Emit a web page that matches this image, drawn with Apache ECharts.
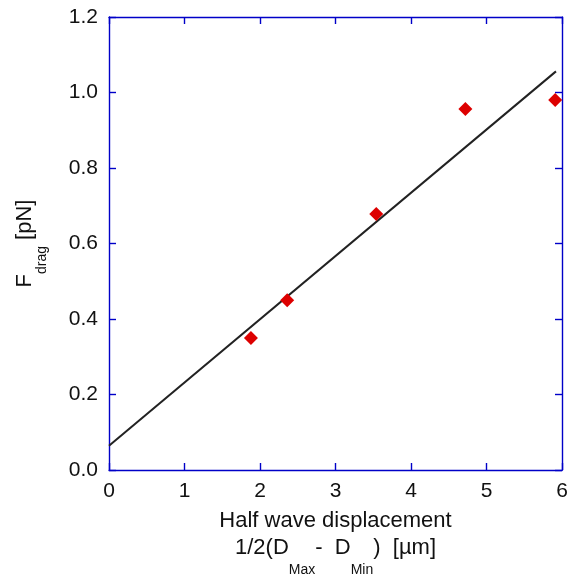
<!DOCTYPE html>
<html>
<head>
<meta charset="utf-8">
<script src="https://cdn.jsdelivr.net/npm/echarts@6/dist/echarts.min.js"></script>
<style>html,body{margin:0;padding:0;background:#fff}#c{width:568px;height:576px}</style>
</head>
<body>
<div id="c"></div>
<script>
const dispX = [1.88, 2.36, 3.54, 4.72, 5.91];
const fDrag = [0.35, 0.45, 0.678, 0.956, 0.98];
const fitX = [0, 5.92];
const fitY = [0.064, 1.056];
const xTicks = [0, 1, 2, 3, 4, 5, 6];
const yTicks = [0.0, 0.2, 0.4, 0.6, 0.8, 1.0, 1.2];

const axisBlue = '#0000c8';
const font = 'Liberation Sans, Arial, sans-serif';
const chart = echarts.init(document.getElementById('c'));
const baseAxis = {
  splitLine: {show: false},
  axisLine: {show: true, onZero: false, lineStyle: {color: axisBlue, width: 1.4}},
  axisTick: {show: true, inside: true, length: 7, lineStyle: {color: axisBlue, width: 1.4}}
};
chart.setOption({
  animation: false,
  grid: {left: 109, top: 17, right: 6, bottom: 106, containLabel: false, outerBoundsMode: 'none'},
  xAxis: [
    Object.assign({}, baseAxis, {
      type: 'value', min: xTicks[0], max: xTicks[xTicks.length-1], interval: 1,
      axisLabel: {color: '#111', fontSize: 21, fontFamily: font, margin: 11},
      name: '{a|Half wave displacement}\n{a|1/2(D}{s|Max}{a|-  D}{s|Min}{a|)  [µm]}',
      nameLocation: 'middle', nameGap: 40,
      nameTextStyle: {
        fontFamily: font, color: '#111',
        rich: {
          a: {fontSize: 22, fontFamily: font, color: '#111', lineHeight: 27, verticalAlign: 'top'},
          s: {fontSize: 14, fontFamily: font, color: '#111', lineHeight: 16, padding: [26, 0, 0, 0], verticalAlign: 'top'}
        }
      }
    }),
    Object.assign({}, baseAxis, {
      type: 'value', position: 'top', min: 0, max: 6, interval: 1,
      axisLabel: {show: false}
    })
  ],
  yAxis: [
    Object.assign({}, baseAxis, {
      type: 'value', min: yTicks[0], max: yTicks[yTicks.length-1], interval: 0.2,
      axisLabel: {color: '#111', fontSize: 21, fontFamily: font, margin: 11, formatter: v => v.toFixed(1)},
      name: '{a|F}{s|drag}{a| [pN]}',
      nameLocation: 'middle', nameGap: 68, nameRotate: 90,
      nameTextStyle: {
        fontFamily: font, color: '#111',
        rich: {
          a: {fontSize: 22, fontFamily: font, color: '#111', lineHeight: 27, verticalAlign: 'top'},
          s: {fontSize: 14, fontFamily: font, color: '#111', lineHeight: 16, padding: [21, 0, 0, 0], verticalAlign: 'top'}
        }
      }
    }),
    Object.assign({}, baseAxis, {
      type: 'value', position: 'right', min: 0, max: 1.2, interval: 0.2,
      axisLabel: {show: false}
    })
  ],
  series: [
    {
      type: 'line', data: fitX.map((x, i) => [x, fitY[i]]),
      showSymbol: false, symbol: 'none',
      lineStyle: {color: '#222', width: 2}, z: 2
    },
    {
      type: 'scatter', data: dispX.map((x, i) => [x, fDrag[i]]),
      symbol: 'diamond', symbolSize: 14,
      itemStyle: {color: '#dd0000', opacity: 1}, z: 3
    }
  ]
});
</script>
</body>
</html>
